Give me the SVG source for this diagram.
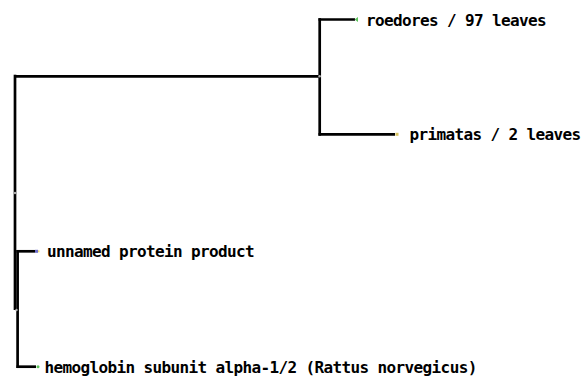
<svg xmlns="http://www.w3.org/2000/svg" width="582" height="376" viewBox="0 0 582 376">
<style>
.br{fill:none;stroke:#000;stroke-width:2.7;stroke-linecap:butt}
.lbl{font-family:"DejaVu Sans Mono","Liberation Mono",monospace;font-weight:bold;font-size:16px;letter-spacing:-0.63px;fill:#000}
.inode{fill:#b0b0b0}
</style>
<rect width="582" height="376" fill="#fff"/>
<g id="connectors">
<path class="br" d="M15,74.7 V310"/>
<path class="br" d="M15,76.3 H318.5"/>
<path class="br" d="M319.7,18.2 V135.7"/>
<path class="br" d="M318.5,19.5 H355"/>
<path class="br" d="M318.5,134.4 H395"/>
<path class="br" d="M17.6,250 V368"/>
<path class="br" d="M16.5,251.3 H35"/>
<path class="br" d="M16.5,366.7 H36"/>
</g>
<g id="node-root"><circle class="inode" cx="15" cy="193" r="1.2"/></g>
<g id="node-top"><circle class="inode" cx="319.7" cy="76.3" r="1.2"/></g>
<g id="node-bottom"><circle class="inode" cx="16.5" cy="310" r="1.2"/></g>
<g id="leaf-roedores">
<polygon points="354.5,19.5 358,17 358,22" fill="#5cc35c"/>
<text class="lbl" x="366" y="25.5">roedores / 97 leaves</text>
</g>
<g id="leaf-primatas">
<rect x="395.5" y="132.8" width="3" height="3" fill="#d8c460"/>
<text class="lbl" x="409.5" y="140">primatas / 2 leaves</text>
</g>
<g id="leaf-unnamed">
<rect x="35" y="249.8" width="3" height="3" fill="#6a6ac8"/>
<rect x="38" y="250.3" width="1.5" height="2" fill="#e8d870"/>
<text class="lbl" x="47" y="256.5">unnamed protein product</text>
</g>
<g id="leaf-hemoglobin">
<circle cx="38" cy="366.7" r="1.5" fill="#5cc35c"/>
<text class="lbl" x="44.5" y="373">hemoglobin subunit alpha-1/2 (Rattus norvegicus)</text>
</g>
</svg>
